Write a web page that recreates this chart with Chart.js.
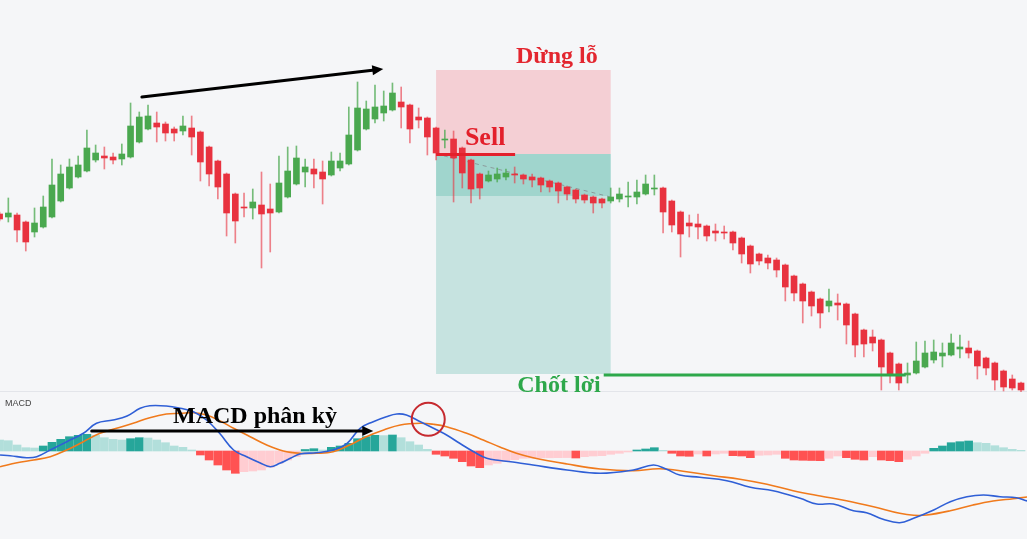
<!DOCTYPE html>
<html><head><meta charset="utf-8">
<script src="https://cdn.jsdelivr.net/npm/chart.js@4/dist/chart.umd.min.js"></script>
<style>
html,body{margin:0;padding:0;background:#f5f6f8;overflow:hidden}
#wrap{position:relative;width:1027px;height:539px;background:#f5f6f8}
#topBox{position:absolute;left:0;top:0;width:1027px;height:400px;z-index:2}
#botBox{position:absolute;left:0;top:392px;width:1027px;height:147px;z-index:1}
#sep{position:absolute;left:0;top:391px;width:1027px;height:1px;background:#e3e5ea;z-index:1}
</style></head><body>
<div id="wrap">
<div id="sep"></div>
<div id="botBox"><canvas id="bot" width="1027" height="147"></canvas></div>
<div id="topBox"><canvas id="top" width="1027" height="400"></canvas></div>
</div>
<script>
// ---- price candles (index 0..117) ----
const opens  = [186,183,185,178,168,173,183,199,212,223,229,240,244,243,241,243,258,271,277,276,271,269,272,268,253,239,226,206,193,192,195,191,188,203,216,228,231,228,225,232,236,250,271,281,287,290,298,295,283,282,272,260,261,252,240,226,219,221,223,226,225,223,222,219,217,213,210,205,203,201,199,201,203,203,206,211,212,199,188,177,176,174,169,168,168,162,154,146,142,140,135,124,116,108,101,94,97,96,86,70,63,60,47,36,25,27,33,40,44,45,51,52,49,42,37,29,21,17];
const highs  = [188,202,187,179,192,204,241,235,241,244,270,255,253,247,256,297,288,295,288,278,273,284,284,269,254,240,227,207,207,211,228,216,244,253,254,241,241,239,248,247,293,318,299,315,309,317,313,296,292,283,273,270,269,253,241,227,229,232,231,233,226,226,223,220,218,214,211,206,204,202,212,212,218,220,225,225,213,200,189,185,186,175,176,174,169,163,155,147,145,142,136,125,117,109,102,111,106,97,87,71,70,61,48,37,37,58,59,60,57,66,65,59,50,43,38,30,25,18];
const lows   = [179,178,158,149,163,172,182,198,211,222,228,238,231,236,235,242,257,270,258,259,259,265,245,219,214,201,164,157,183,181,132,148,187,202,215,213,212,196,224,229,235,249,270,277,279,289,272,257,272,245,240,252,198,212,197,201,218,218,220,217,216,213,208,208,197,200,197,197,187,192,197,198,193,196,205,205,167,168,143,163,161,159,159,161,150,137,127,135,131,123,99,99,77,84,72,88,80,56,43,43,49,10,17,10,17,26,32,37,33,44,42,42,21,25,10,9,10,8];
const closes = [181,187,170,158,177,193,215,226,233,235,252,247,242,240,246,274,283,284,273,267,267,274,263,238,226,213,187,179,192,198,186,187,217,229,242,233,226,221,239,239,265,292,291,293,294,307,293,271,280,263,247,261,242,227,211,212,225,226,227,225,221,220,215,213,209,206,201,200,197,197,203,206,204,208,216,212,188,175,166,174,173,164,167,167,157,146,136,139,137,130,113,107,99,94,87,99,95,75,55,56,57,33,26,17,27,39,47,48,47,57,53,47,34,32,20,13,12,10];

// ---- MACD panel ----
const histValues = [11,10.3,6,3.3,3,5,8.7,11.7,14.3,15.7,16.7,15.7,13.3,11.7,11,12.3,13.3,13,11,8.3,5,3.7,1,-4,-9,-14,-19,-22.3,-20.7,-20,-19,-16.3,-12.3,-9,-5.7,1.5,2.3,1,3.7,5,7.7,12.3,14.3,15.7,15.4,16,13.3,9.3,6,1.7,-3.3,-5,-7.3,-10.7,-15,-16.7,-14,-12.3,-10.5,-8.7,-7.3,-7.1,-6.9,-6.8,-6.7,-6.6,-7,-5.7,-5,-4.7,-3.3,-2.3,-1,1,2,3.3,0.7,-2.3,-5,-5.3,-3,-5,-3,-2.3,-4.7,-5,-6.7,-4.3,-4,-3.3,-7.3,-9,-9.3,-9.5,-9.7,-7.3,-5,-6.7,-8.3,-9,-5.7,-9,-9.7,-10.7,-8.3,-5,-2.3,2.7,5,8.3,9.3,10,8.3,7.7,5.3,3.3,1.7,0.7];
const macdIdx  = [0.05,1.2,3.1,4.25,5.8,7.7,9.6,11.1,13,14.6,16.1,17.2,19.1,20.7,22.2,23.7,25.2,26.8,28.3,29.8,31,32.1,33.3,34.4,36.3,38.2,39.8,41.3,42.8,44.3,45.5,46.6,48.2,49.7,51.2,52.7,54.3,55.8,57.3,59.2,61.1,65,68.8,72.6,74.9,76.4,77.9,80.2,83.3,86,88.6,91.7,93.6,95.5,97.8,99.3,101.2,103.1,104.7,107,108.9,110.8,112.7,114.6,116.5,117.7];
const macdVals = [-4,-4.7,-6.7,-5.7,1,9.3,17.7,27.7,31,35,42.7,45.3,45,42.7,39.3,31,17.7,1,-5.7,-11.7,-15.7,-12.3,-7.3,-3,-1.7,1,7.7,22.7,29.3,34.3,37,36,29.3,22.7,16,7.7,-0.7,-7.3,-9.5,-11.5,-14,-19,-22.3,-19,-14,-18.3,-24,-26.3,-29.7,-36.3,-39.7,-47.3,-53,-53,-59.7,-61.7,-68.3,-71.7,-67.3,-59,-50.7,-45.7,-44,-45.7,-46.7,-50];
const signalIdx  = [0.05,2,3.9,5.8,7.7,9.6,11.5,13.4,15.3,17.2,19.1,20.7,22.2,23.7,25.2,26.8,28.7,30.6,32.5,34.4,36.3,38.2,40.1,42,44,45.9,48.2,49.7,51.2,53.5,55.4,57.3,59.2,61.1,65,68.8,72.6,75.6,78.7,81.8,84.8,87.9,90.9,94,97,100.1,103.1,104.7,106.2,108.9,111.5,113.8,116.1,117.7];
const signalVals = [-15.7,-11.7,-9,-5.7,1,9.3,17.7,22.7,27.7,33.3,37,37.7,38.3,36,30.3,22.7,14.3,6,0,-2.3,-2.3,-0.7,6,14.3,21,26,27.7,26.7,24.3,17.7,11,4,-2.3,-6.7,-13,-18,-19.7,-17.7,-20.7,-24.7,-28.3,-33.3,-39.7,-45,-49.7,-55.7,-62.3,-64.3,-64,-59.7,-54,-50,-47.7,-46];

// ---- trade / annotation levels (price units, candle index) ----
const tradeFrom = 50, tradeTo = 70;
const stopPrice = 330, entryPrice = 246, targetPrice = 26, lastPrice = 204;

const GREEN = '#4aa84f', RED = '#e8323f';
const GREEN_W = 'rgba(74,168,79,0.75)', RED_W = 'rgba(232,50,63,0.6)';
const idx = opens.map((_, i) => i);
const upCandle = idx.map(i => closes[i] >= opens[i]);
const XMIN = 0.0458, XMAX = 117.686;

function arrow(ctx, x1, y1, x2, y2, w, color, head) {
  ctx.save();
  ctx.strokeStyle = color; ctx.fillStyle = color; ctx.lineWidth = w; ctx.lineCap = 'round';
  const a = Math.atan2(y2 - y1, x2 - x1);
  ctx.beginPath(); ctx.moveTo(x1, y1); ctx.lineTo(x2 - Math.cos(a) * head * 0.6, y2 - Math.sin(a) * head * 0.6); ctx.stroke();
  ctx.beginPath();
  ctx.moveTo(x2, y2);
  ctx.lineTo(x2 - head * Math.cos(a) + head * 0.45 * Math.sin(a), y2 - head * Math.sin(a) - head * 0.45 * Math.cos(a));
  ctx.lineTo(x2 - head * Math.cos(a) - head * 0.45 * Math.sin(a), y2 - head * Math.sin(a) + head * 0.45 * Math.cos(a));
  ctx.closePath(); ctx.fill();
  ctx.restore();
}

const topAnno = {
  id: 'topAnno',
  beforeDatasetsDraw(chart) {
    const ctx = chart.ctx, xs = chart.scales.x, ys = chart.scales.y;
    const xl = xs.getPixelForValue(tradeFrom), xr = xs.getPixelForValue(tradeTo);
    ctx.save();
    ctx.fillStyle = 'rgba(242,54,69,0.2)';
    ctx.fillRect(xl, ys.getPixelForValue(stopPrice), xr - xl, ys.getPixelForValue(entryPrice) - ys.getPixelForValue(stopPrice));
    ctx.fillStyle = 'rgba(8,153,129,0.2)';
    ctx.fillRect(xl, ys.getPixelForValue(entryPrice), xr - xl, ys.getPixelForValue(targetPrice) - ys.getPixelForValue(entryPrice));
    ctx.fillRect(xl, ys.getPixelForValue(entryPrice), xr - xl, ys.getPixelForValue(lastPrice) - ys.getPixelForValue(entryPrice));
    ctx.strokeStyle = '#8a9a9a'; ctx.lineWidth = 1; ctx.setLineDash([4, 4]);
    ctx.beginPath();
    ctx.moveTo(xl, ys.getPixelForValue(entryPrice));
    ctx.lineTo(xr, ys.getPixelForValue(lastPrice - 1));
    ctx.stroke();
    ctx.restore();
  },
  afterDatasetsDraw(chart) {
    const ctx = chart.ctx, xs = chart.scales.x, ys = chart.scales.y;
    const X = v => xs.getPixelForValue(v), Y = v => ys.getPixelForValue(v);
    ctx.save();
    // sell line
    ctx.strokeStyle = '#e3202b'; ctx.lineWidth = 3;
    ctx.beginPath(); ctx.moveTo(X(tradeFrom), Y(entryPrice - 0.5)); ctx.lineTo(X(59.05), Y(entryPrice - 0.5)); ctx.stroke();
    // take profit line
    ctx.strokeStyle = '#2ea84b';
    ctx.beginPath(); ctx.moveTo(X(69.2), Y(targetPrice - 1)); ctx.lineTo(X(103.8), Y(targetPrice - 1)); ctx.stroke();
    // trend arrow
    arrow(ctx, X(16.3), Y(303), X(43.95), Y(331), 3, '#000', 11);
    // texts
    ctx.font = 'bold 24px "Liberation Serif", "Times New Roman", serif';
    ctx.textBaseline = 'alphabetic';
    ctx.fillStyle = '#e3262f';
    ctx.fillText('Dừng lỗ', X(59.15), Y(337));
    ctx.font = 'bold 26px "Liberation Serif", "Times New Roman", serif';
    ctx.fillStyle = '#e3202b';
    ctx.fillText('Sell', X(53.3), Y(255));
    ctx.font = 'bold 24px "Liberation Serif", "Times New Roman", serif';
    ctx.fillStyle = '#2ea84b';
    ctx.fillText('Chốt lời', X(59.3), Y(8));
    ctx.restore();
  }
};

new Chart(document.getElementById('top'), {
  type: 'bar',
  data: {
    datasets: [
      { label: 'body', order: 1, barThickness: 6, grouped: false,
        data: idx.map(i => ({ x: i, y: [opens[i], closes[i]] })),
        backgroundColor: idx.map(i => upCandle[i] ? GREEN : RED), borderWidth: 0, borderSkipped: false },
      { label: 'wick', order: 2, barThickness: 1, grouped: false,
        data: idx.map(i => ({ x: i, y: [lows[i], highs[i]] })),
        backgroundColor: idx.map(i => upCandle[i] ? GREEN_W : RED_W), borderWidth: 0, borderSkipped: false }
    ]
  },
  options: {
    responsive: false, animation: false, devicePixelRatio: 1,
    layout: { padding: { left: 0, right: 0, top: 0, bottom: 8 } },
    plugins: { legend: { display: false }, tooltip: { enabled: false } },
    scales: {
      x: { type: 'linear', min: XMIN, max: XMAX, offset: false, display: false },
      y: { type: 'linear', min: 8, max: 400, display: false, beginAtZero: false }
    }
  },
  plugins: [topAnno]
});

const botAnno = {
  id: 'botAnno',
  afterDatasetsDraw(chart) {
    const ctx = chart.ctx, xs = chart.scales.x, ys = chart.scales.y;
    const X = v => xs.getPixelForValue(v), Y = v => ys.getPixelForValue(v);
    ctx.save();
    ctx.fillStyle = '#444';
    ctx.font = '9px "Liberation Sans", Arial, sans-serif';
    ctx.textBaseline = 'top';
    ctx.fillText('MACD', 5, 7);
    ctx.textBaseline = 'alphabetic';
    ctx.fillStyle = '#000';
    ctx.font = 'bold 24px "Liberation Serif", "Times New Roman", serif';
    ctx.fillText('MACD phân kỳ', X(19.86), Y(28));
    arrow(ctx, X(10.55), Y(20), X(42.8), Y(20), 3, '#000', 11);
    ctx.strokeStyle = '#c62a2f'; ctx.lineWidth = 2;
    ctx.beginPath(); ctx.arc(X(49.1), Y(31.7), 16.5, 0, Math.PI * 2); ctx.stroke();
    ctx.restore();
  }
};

new Chart(document.getElementById('bot'), {
  type: 'bar',
  data: {
    datasets: [
      { type: 'line', label: 'MACD', order: 0,
        data: macdIdx.map((x, k) => ({ x: x, y: macdVals[k] })),
        borderColor: '#2f5fd6', borderWidth: 1.6, pointRadius: 0, tension: 0.4, fill: false },
      { type: 'line', label: 'Signal', order: 0,
        data: signalIdx.map((x, k) => ({ x: x, y: signalVals[k] })),
        borderColor: '#f07a1c', borderWidth: 1.6, pointRadius: 0, tension: 0.4, fill: false },
      { label: 'Histogram', order: 1, barThickness: 8, grouped: false,
        data: histValues.map((v, i) => ({ x: i, y: v })),
        backgroundColor: histValues.map((v, i) => {
          const prev = i > 0 ? histValues[i - 1] : v + 1;
          if (v >= 0) return v >= prev ? '#26a69a' : '#b2dfdb';
          return v < prev ? '#ff5252' : '#ffcdd2';
        }), borderWidth: 0 }
    ]
  },
  options: {
    responsive: false, animation: false, devicePixelRatio: 1,
    layout: { padding: 0 },
    plugins: { legend: { display: false }, tooltip: { enabled: false } },
    scales: {
      x: { type: 'linear', min: XMIN, max: XMAX, offset: false, display: false },
      y: { type: 'linear', min: -88, max: 59, display: false, beginAtZero: false }
    }
  },
  plugins: [botAnno]
});
</script>
</body></html>
